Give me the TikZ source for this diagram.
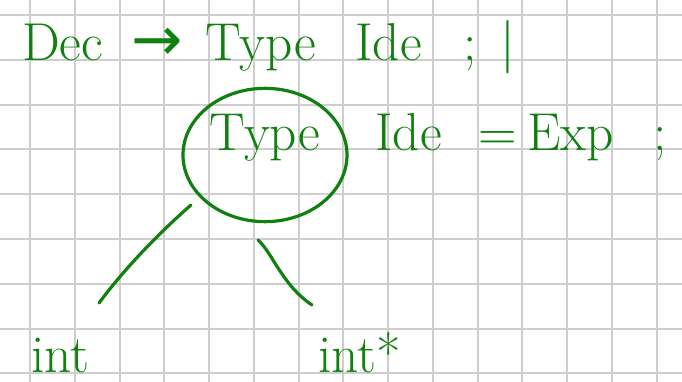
\documentclass[tikz,border=0pt]{standalone}
\usepackage{fontspec}
\newfontfamily\arrowfont{DejaVu Sans}
\usetikzlibrary{shapes.geometric}
\definecolor{ink}{RGB}{16,128,16}
\definecolor{gridgray}{RGB}{206,206,206}
\begin{document}
\begin{tikzpicture}[x=0.75pt,y=-0.75pt,
  hand/.style={text=ink,font=\fontsize{40}{44}\selectfont,inner sep=0pt},
  pen/.style={ink,line width=2.4pt,line cap=round}]
\useasboundingbox(0,0)rectangle(682,382);
\clip(0,0)rectangle(682,382);
% squared paper
\foreach \i in {0,...,14}\draw[gridgray,line width=1.5pt]({30+44.75*\i},0)--({30+44.75*\i},382);
\foreach \j in {0,...,8}\draw[gridgray,line width=1.5pt](0,{15+44.8*\j})--(682,{15+44.8*\j});
% first rule
\node[hand,anchor=base west](dec)at(22,60){Dec};
\node[hand,font=\arrowfont\fontsize{46}{50}\selectfont](arr)at(157,44){→};
\node[hand,anchor=base west](type1)at(205,60){Type};
\node[hand,anchor=base west](ide1)at(355,60){Ide};
\node[hand,anchor=base west](semi1)at(463,60){;};
\node[hand,anchor=base west](bar)at(500,60){|};
% second rule
\node[hand,draw=ink,line width=2.4pt,ellipse,minimum width=123pt,minimum height=100pt,
  text height=27pt,text depth=34.5pt](tp)at(265,155){Type};
\node[hand,anchor=base west](ide2)at(375,150){Ide};
\node[hand,anchor=base west](eq)at(478,150){=};
\node[hand,anchor=base west](exp)at(527,150){Exp};
\node[hand,anchor=base west](semi2)at(653,150){;};
% children
\node[hand,anchor=base east](intl)at(90,372){int};
\node[hand,anchor=base west](intr)at(318,372){int*};
\coordinate(l1)at(191,205);\coordinate(l2)at(99,303);
\coordinate(r1)at(258,240);\coordinate(r2)at(312,305);
\draw[pen](l1)..controls(160,232)and(125,268)..(l2);
\draw[pen](r1)..controls(272,252)and(282,285)..(r2);
\end{tikzpicture}
\end{document}
